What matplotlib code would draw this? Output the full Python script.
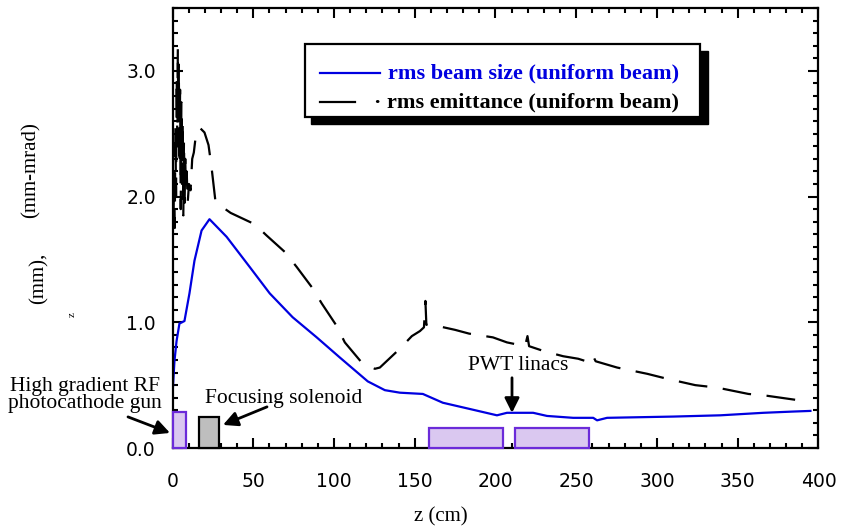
import numpy as np
import matplotlib
matplotlib.use('Agg')
import matplotlib.pyplot as plt
from matplotlib.ticker import MultipleLocator, FormatStrFormatter
from matplotlib.patches import Rectangle
from matplotlib.lines import Line2D

# rms beam size (uniform beam), mm
z_size = [0.3, 1.2, 2.5, 4.3, 7.4, 10.5, 13.6, 18.0, 22.9, 33.5, 47.8, 60.2,
          74.4, 89.3, 103.6, 120.9, 131.5, 140.8, 155.0, 167.4, 184.2, 200.9,
          207.1, 223.3, 231.9, 248.1, 260.5, 262.9, 269.1, 310.1, 339.2,
          365.9, 384.5, 395.0]
beam_size = [0.49, 0.69, 0.85, 0.99, 1.01, 1.23, 1.49, 1.73, 1.82, 1.68, 1.44,
             1.23, 1.04, 0.88, 0.72, 0.53, 0.46, 0.44, 0.43, 0.36, 0.31, 0.26,
             0.28, 0.28, 0.255, 0.24, 0.24, 0.22, 0.24, 0.25, 0.26, 0.28,
             0.29, 0.295]

# rms emittance (uniform beam), mm-mrad
z_emit = [0.6, 1.0, 1.4, 1.8, 2.2, 2.6, 3.0, 3.3, 3.6, 3.9, 4.3, 4.7, 5.1, 5.5,
          5.9, 6.3, 6.7, 7.1, 7.5, 7.9, 8.3, 8.8, 9.4, 10.2, 11.2, 12.2, 13.2,
          14.3, 16.7, 19.8, 22.3, 24.2, 26.7, 30.5, 36.0, 50.9, 58.3, 69.5,
          76.9, 86.8, 92.4, 101.7, 106.7, 117.8, 125.3, 128.4, 140.8, 148.2,
          153.2, 155.7, 156.6, 157.2, 164.3, 174.9, 183.6, 198.4, 207.1, 218.3,
          219.8, 220.8, 230.1, 241.9, 251.2, 258.6, 260.5, 262.0, 275.3, 294.0,
          306.4, 323.7, 337.4, 356.6, 368.4, 387.6, 390.0]
emittance = [1.80, 2.20, 1.75, 2.55, 2.00, 2.95, 2.40, 3.18, 2.60, 3.05, 2.25,
             2.85, 1.90, 2.75, 2.10, 2.60, 1.85, 2.45, 1.95, 2.30, 2.05, 2.20,
             1.95, 2.10, 2.05, 2.30, 2.35, 2.47, 2.55, 2.51, 2.41, 2.23, 1.95,
             1.92, 1.87, 1.78, 1.69, 1.56, 1.44, 1.27, 1.15, 0.97, 0.84, 0.67,
             0.63, 0.64, 0.79, 0.89, 0.93, 0.96, 1.17, 0.98, 0.97, 0.94, 0.91,
             0.88, 0.84, 0.81, 0.89, 0.81, 0.77, 0.73, 0.71, 0.68, 0.73, 0.69,
             0.64, 0.59, 0.55, 0.50, 0.48, 0.43, 0.415, 0.38, 0.378]

# beamline elements: start (cm), length (cm), box height (axis units)
elem_start = [0.0, 16.7, 158.8, 212.0]
elem_len = [8.1, 12.4, 45.9, 46.0]
elem_height = [0.287, 0.247, 0.162, 0.162]
elem_fill = ['#dac8f0', '#bebebe', '#dac8f0', '#dac8f0']
elem_edge = ['#6b2bd9', 'black', '#6b2bd9', '#6b2bd9']

W, H = 843, 529
serif = 'Liberation Serif'


def P(px, py):
    # pixel position (from top left) -> figure fraction
    return px / W, 1 - py / H


fig = plt.figure(figsize=(W / 100, H / 100), dpi=100)
ax = fig.add_axes([172.5 / W, 1 - 448 / H, (818.5 - 172.5) / W, 440 / H])

ax.bar(elem_start, elem_height, width=elem_len, align='edge',
       color=elem_fill, edgecolor=elem_edge, linewidth=1.6, zorder=3,
       clip_on=False)

ax.plot(z_emit, emittance, color='black', lw=1.6, dashes=(13, 7), zorder=2)
ax.plot(z_size, beam_size, color='#0000e0', lw=1.6, zorder=2)

ax.set_xlim(0, 400)
ax.set_ylim(0, 3.5)
ax.xaxis.set_major_locator(MultipleLocator(50))
ax.xaxis.set_minor_locator(MultipleLocator(10))
ax.yaxis.set_major_locator(MultipleLocator(1.0))
ax.yaxis.set_minor_locator(MultipleLocator(0.1))
ax.yaxis.set_major_formatter(FormatStrFormatter('%.1f'))
ax.tick_params(which='both', direction='in', top=True, right=True,
               width=1.5, color='black')
ax.tick_params(which='major', length=7, labelsize=13.5)
ax.tick_params(which='minor', length=3.5)
ax.tick_params(axis='x', which='major', pad=17)
ax.tick_params(axis='y', which='major', pad=12)
for sp in ax.spines.values():
    sp.set_linewidth(1.6)

# axis labels
fig.text(*P(441, 521), 'z (cm)', family=serif, fontsize=15, ha='center',
         va='baseline')
fig.text(*P(31, 170), '(mm-mrad)', family=serif, fontsize=15, rotation=90,
         ha='center', va='center')
fig.text(*P(39, 278), '(mm),', family=serif, fontsize=15, rotation=90,
         ha='center', va='center')
fig.text(*P(72, 315), 'z', family=serif, fontsize=8, rotation=90,
         ha='center', va='center')


def D(px, py):
    # pixel position -> data coordinates
    return (px - 172.5) / 1.615, (448 - py) / 125.3


arrow = dict(arrowstyle='-|>', color='black', lw=2, mutation_scale=22,
             shrinkA=0, shrinkB=0)
ax.annotate('', xy=D(170, 433), xytext=D(128, 417), arrowprops=arrow,
            annotation_clip=False)
ax.annotate('', xy=D(223, 425), xytext=D(267, 407), arrowprops=arrow,
            annotation_clip=False)
ax.annotate('', xy=D(512, 413), xytext=D(512, 378), arrowprops=arrow,
            annotation_clip=False)

fig.text(*P(85, 413), 'High gradient RF\nphotocathode gun', family=serif,
         fontsize=15.5, ha='center', va='bottom', multialignment='center',
         linespacing=0.85)
fig.text(*P(205, 403), 'Focusing solenoid', family=serif, fontsize=15.5,
         ha='left', va='baseline')
fig.text(*P(468, 370), 'PWT linacs', family=serif, fontsize=15.5,
         ha='left', va='baseline')

# legend box with shadow
x0, y0 = P(311, 124)
x1, y1 = P(708, 51)
fig.add_artist(Rectangle((x0, y0), x1 - x0, y1 - y0, transform=fig.transFigure,
                         facecolor='black', edgecolor='black', zorder=5))
x0, y0 = P(305, 117)
x1, y1 = P(700, 44)
fig.add_artist(Rectangle((x0, y0), x1 - x0, y1 - y0, transform=fig.transFigure,
                         facecolor='white', edgecolor='black', lw=1.6,
                         zorder=6))
a, b = P(320, 73)
c, _ = P(380, 73)
fig.add_artist(Line2D([a, c], [b, b], transform=fig.transFigure,
                      color='#0000e0', lw=1.6, zorder=7))
a, b = P(320, 102)
c, _ = P(355, 102)
fig.add_artist(Line2D([a, c], [b, b], transform=fig.transFigure,
                      color='black', lw=1.6, zorder=7))
fig.text(*P(388, 73), 'rms beam size (uniform beam)', family=serif,
         fontsize=16, weight='bold', color='#0000e0', ha='left', va='center',
         zorder=8)
fig.text(*P(374, 102), '\u00b7 rms emittance (uniform beam)', family=serif,
         fontsize=16, weight='bold', color='black', ha='left', va='center',
         zorder=8)

fig.savefig('out.png', dpi=100, facecolor='white')
